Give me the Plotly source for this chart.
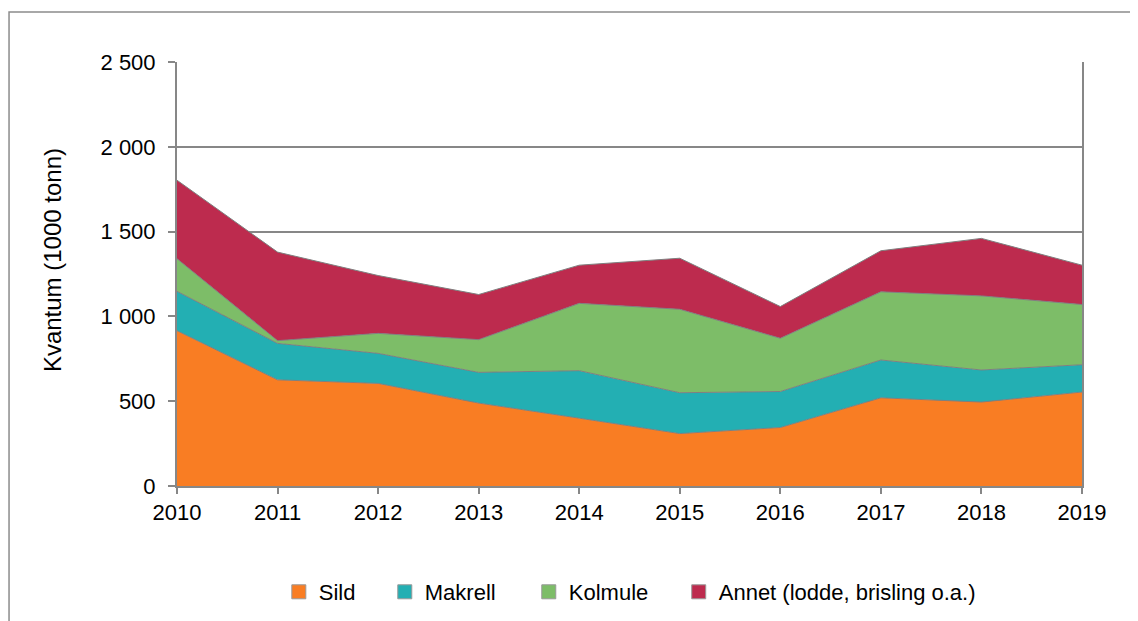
import plotly.graph_objects as go

# aar og kvantum (1000 tonn), lest av figuren
years = [2010, 2011, 2012, 2013, 2014, 2015, 2016, 2017, 2018, 2019]
sild = [916, 626, 605, 489, 400, 309, 345, 520, 495, 554]
makrell = [232, 215, 177, 181, 280, 241, 212, 223, 189, 161]
kolmule = [192, 16, 118, 193, 397, 492, 314, 402, 437, 355]
annet = [463, 522, 341, 266, 225, 301, 187, 242, 339, 232]

series = [
    ("Sild", sild, "#F97D23"),
    ("Makrell", makrell, "#23AFB3"),
    ("Kolmule", kolmule, "#7DBD68"),
    ("Annet (lodde, brisling o.a.)", annet, "#BD2B4E"),
]
legend_x = [0.1125, 0.2296, 0.3887, 0.5544]

GRID = "#878787"
FONT = "Liberation Sans, Arial, sans-serif"

fig = go.Figure()
for name, vals, col in series:
    fig.add_trace(go.Scatter(
        x=years, y=vals, name=name,
        mode="lines", stackgroup="one",
        line=dict(color="#7f7f7f", width=1),
        fillcolor=col, showlegend=False,
    ))

# en egen legend per serie, med firkant-symbol som i originalen
legend_layout = {}
for i, (name, vals, col) in enumerate(series):
    key = "legend" if i == 0 else "legend%d" % (i + 1)
    fig.add_trace(go.Scatter(
        x=[None], y=[None], name=name, mode="markers",
        marker=dict(symbol="square", size=14, color=col,
                    line=dict(color="#999999", width=1)),
        legend=key, showlegend=True,
    ))
    legend_layout[key] = dict(
        x=legend_x[i], xanchor="left", y=-0.25, yanchor="middle",
        orientation="h", font=dict(size=22), itemwidth=30,
        bgcolor="rgba(0,0,0,0)",
    )

fig.update_layout(
    width=1138, height=621,
    margin=dict(l=169, r=64, t=54, b=143),
    paper_bgcolor="white", plot_bgcolor="white",
    font=dict(family=FONT, size=22, color="black"),
    separators=", ",
    **legend_layout,
)

fig.update_xaxes(
    range=[2010, 2019], dtick=1, tickformat="d",
    showgrid=False, showline=True, linecolor=GRID, linewidth=2,
    ticks="outside", tickcolor=GRID, ticklen=6, tickwidth=2,
    zeroline=False,
)
fig.update_yaxes(
    range=[0, 2500], dtick=500, tickformat=",",
    showgrid=True, gridcolor=GRID, gridwidth=1.5,
    showline=True, mirror=True, linecolor=GRID, linewidth=2,
    ticks="outside", tickcolor=GRID, ticklen=7, tickwidth=2,
    ticklabelstandoff=8,
    zeroline=False,
)

# aksetittel som annotasjon, litt over midten slik som i originalen
fig.add_annotation(
    text="Kvantum (1000 tonn)", textangle=-90,
    xref="paper", yref="paper", x=-0.138, y=0.533,
    xanchor="center", yanchor="middle", showarrow=False,
    font=dict(family=FONT, size=24, color="black"),
)

# ytre ramme rundt hele diagrammet (fortsetter ut av bildet til hoyre og nede)
fig.add_shape(
    type="rect", xref="paper", yref="paper",
    x0=-0.1856, x1=1.2, y0=-0.5, y1=1.118,
    line=dict(color="#8c8c8c", width=1.5), layer="below",
)

fig.write_html("out.html")
